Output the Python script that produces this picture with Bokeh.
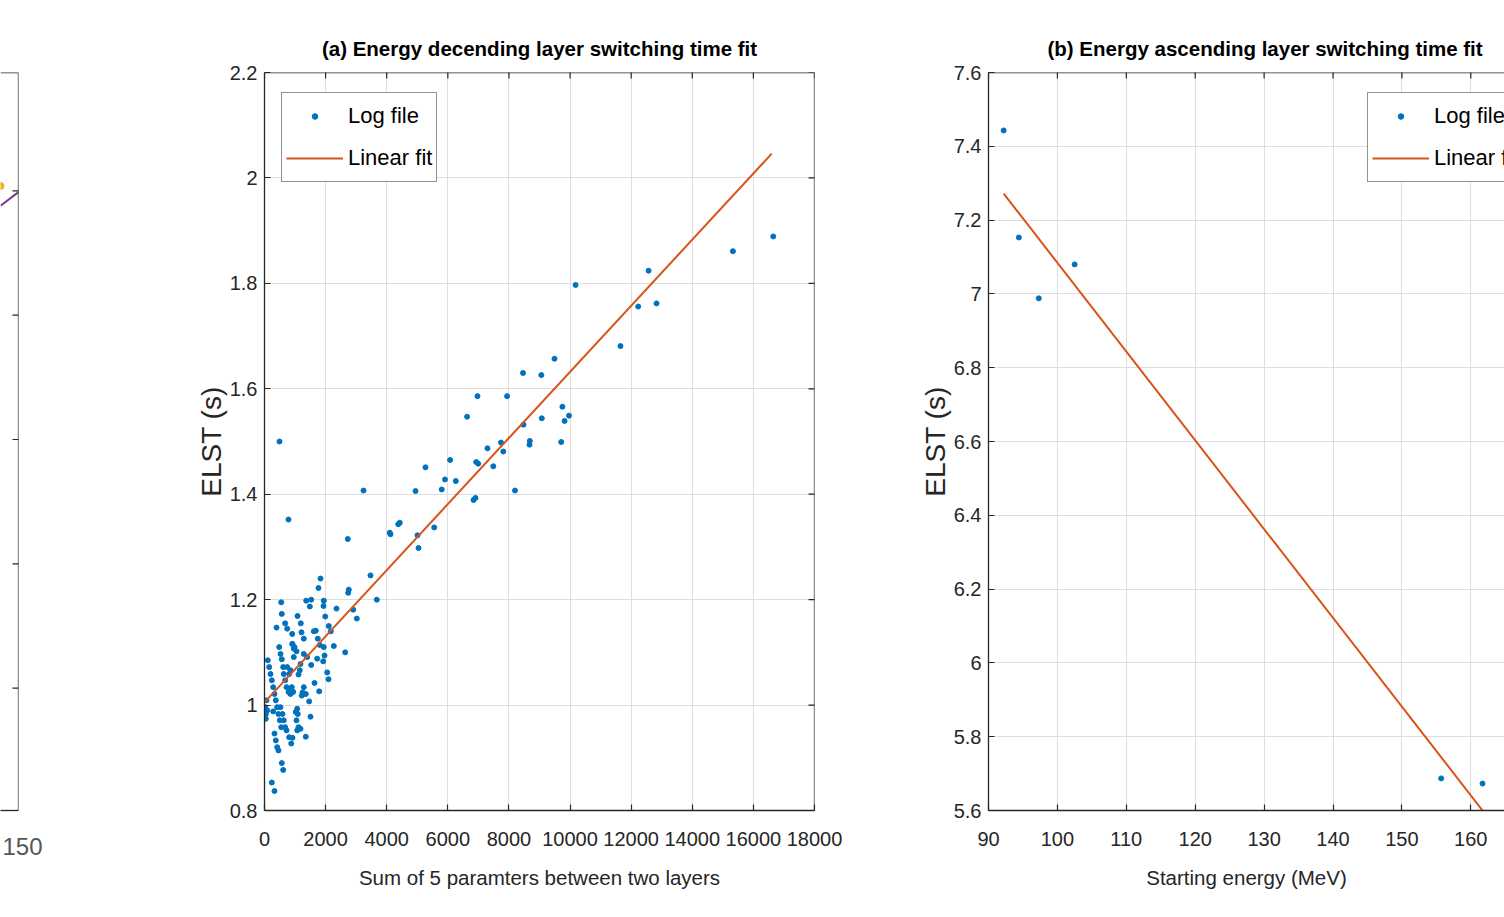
import math
from bokeh.plotting import figure
from bokeh.layouts import row
from bokeh.models import (LinearAxis, FixedTicker, Legend, LegendItem, Span,
                          Range1d, PrintfTickFormatter, Grid)
from bokeh.embed import file_html
from bokeh.resources import INLINE

# ---------------- data ----------------
# (a) Energy descending layer switching time
xa = [16650, 15330, 12570, 10180, 12230, 12830, 11650, 9490, 8460, 9060,
      6970, 7940, 6630, 9750, 9965, 9820, 9075, 8476, 7740, 7815,
      8683, 8673, 9710, 7298, 7488, 6074, 6928, 6994, 5269, 5907,
      6261, 5799, 4942, 8198, 6840, 6905, 785, 491, 2726, 3240,
      4101, 4124, 4376, 4428, 5007, 5040, 5554,
      1833, 1767, 3469, 2759, 2739, 3675, 2903, 3021, 2356, 2641,
      2268, 547, 566, 1365, 1528, 1483, 1941, 1931, 1987, 1080,
      1188, 677, 743, 393, 907, 1211, 1286, 2104, 2170, 1613,
      1679, 1744, 1810, 1941, 1964, 1921, 2052, 2095, 1636, 1790,
      1725, 1528, 1397, 1286, 907, 959, 481, 524, 566, 612,
      632, 677, 720, 785, 851, 893, 939, 108, 154, 196,
      239, 285, 327, 370, 416, 458, 501, 547, 65, 23,
      43, 88, 285, 524, 589, 632, 677, 720, 327, 370,
      416, 458, 808, 874, 916, 1070, 1047, 1090, 1113, 1178,
      1352, 1505, 1463, 1244, 1286, 1221, 1070, 1024, 851, 959,
      1047, 916, 982, 566, 612, 239, 327, 1352, 1155, 1113,
      1178, 851, 808, 743, 43]
ya = [1.889, 1.861, 1.824, 1.797, 1.756, 1.762, 1.681, 1.657, 1.630, 1.626,
      1.586, 1.586, 1.547, 1.566, 1.549, 1.539, 1.544, 1.532, 1.498, 1.481,
      1.501, 1.494, 1.499, 1.487, 1.453, 1.465, 1.461, 1.458, 1.451, 1.428,
      1.425, 1.409, 1.406, 1.407, 1.389, 1.393, 1.352, 1.500, 1.315, 1.407,
      1.327, 1.324, 1.343, 1.346, 1.322, 1.298, 1.337,
      1.240, 1.222, 1.246, 1.219, 1.213, 1.200, 1.181, 1.164, 1.183, 1.100,
      1.112, 1.195, 1.173, 1.198, 1.200, 1.187, 1.198, 1.188, 1.168, 1.169,
      1.155, 1.155, 1.145, 1.147, 1.135, 1.138, 1.126, 1.150, 1.140, 1.140,
      1.141, 1.126, 1.114, 1.110, 1.094, 1.083, 1.062, 1.049, 1.042, 1.026,
      1.088, 1.076, 1.091, 1.097, 1.116, 1.107, 1.110, 1.097, 1.087, 1.072,
      1.059, 1.047, 1.034, 1.025, 1.021, 1.034, 1.025, 1.085, 1.072, 1.059,
      1.047, 1.034, 1.021, 1.009, 0.996, 0.983, 0.971, 0.958, 1.009, 0.996,
      0.974, 0.990, 0.988, 0.996, 0.983, 0.971, 0.958, 0.952, 0.946, 0.933,
      0.920, 0.914, 0.939, 0.927, 0.938, 0.952, 0.971, 0.983, 0.958, 0.955,
      0.940, 0.978, 1.007, 1.024, 1.034, 1.018, 0.993, 0.987, 1.030, 1.091,
      1.102, 1.116, 1.110, 0.890, 0.877, 0.853, 0.837, 1.021, 1.066, 1.058,
      1.078, 1.066, 1.059, 1.072, 0.983]
fit_ax = [0, 16600]
fit_ay = [1.005, 2.046]

# (b) Energy ascending layer switching time
xb = [92.2, 94.4, 97.3, 102.5, 155.7, 161.7]
yb = [7.443, 7.153, 6.988, 7.080, 5.687, 5.673]
fit_bx = [92.2, 161.7]
fit_by = [7.272, 5.600]

# left (cut-off) panel fragment
x0_line = [148.0, 150.0]
y0_line = [4.88, 4.99]
x0_pt = [148.0]
y0_pt = [5.04]

xticks_a = [0, 2000, 4000, 6000, 8000, 10000, 12000, 14000, 16000, 18000]
yticks_a = [0.8, 1.0, 1.2, 1.4, 1.6, 1.8, 2.0, 2.2]
xticks_b = [90, 100, 110, 120, 130, 140, 150, 160, 170]
yticks_b = [5.6, 5.8, 6.0, 6.2, 6.4, 6.6, 6.8, 7.0, 7.2, 7.4, 7.6]
yticks_0 = [1, 2, 3, 4, 5]
xticks_0 = [150]

# ---------------- style ----------------
FONT = "Liberation Sans"
AX = "#262626"
GRID = "#dedede"
BLUE = "#0072BD"
ORANGE = "#D95319"
PURPLE = "#7E2F8E"
YELLOW = "#EDB120"


def make_axis(ticks, standoff):
    ax = LinearAxis(ticker=FixedTicker(ticks=ticks),
                    formatter=PrintfTickFormatter(format="%g"))
    ax.axis_line_color = AX
    ax.axis_line_width = 1.3
    ax.major_tick_line_color = AX
    ax.major_tick_line_width = 1.2
    ax.major_tick_in = 6
    ax.major_tick_out = 0
    ax.minor_tick_line_color = None
    ax.major_label_text_font = FONT
    ax.major_label_text_font_size = "20px"
    ax.major_label_text_color = AX
    ax.major_label_standoff = standoff
    return ax


def base_fig(width, title, xr, yr, bl, br):
    p = figure(width=width, height=908, x_range=Range1d(*xr), y_range=Range1d(*yr),
               min_border_left=bl, min_border_right=br, min_border_top=72,
               min_border_bottom=98, toolbar_location=None, output_backend="svg",
               x_axis_type=None, y_axis_type=None, title=title)
    p.outline_line_color = None
    p.background_fill_color = "white"
    p.border_fill_color = "white"
    p.title.text_font = FONT
    p.title.text_font_size = "20.5px"
    p.title.text_font_style = "bold"
    p.title.text_color = "black"
    p.title.standoff = 26
    return p


def add_box_ticks(p, xticks, ytop, yticks=None, xright=None):
    # MATLAB-style inward ticks on the top (and right) box edges
    if xticks:
        p.scatter(list(xticks), [ytop] * len(xticks), marker="dash", size=12,
                  angle=math.pi / 2, line_color=AX, line_width=1.2)
    p.add_layout(Span(location=ytop, dimension="width", line_color=AX, line_width=1.3))
    if yticks is not None:
        p.scatter([xright] * len(yticks), yticks, marker="dash", size=12,
                  angle=0, line_color=AX, line_width=1.2)
        p.add_layout(Span(location=xright, dimension="height", line_color=AX,
                          line_width=1.3))


def add_panel_axes(p, xticks, yticks, xlabel, ylabel):
    xb_ax = make_axis(xticks, standoff=21)
    xb_ax.axis_label = xlabel
    xb_ax.axis_label_text_font = FONT
    xb_ax.axis_label_text_font_size = "20.5px"
    xb_ax.axis_label_text_font_style = "normal"
    xb_ax.axis_label_text_color = AX
    xb_ax.axis_label_standoff = 17
    yl_ax = make_axis(yticks, standoff=7)
    yl_ax.axis_label = ylabel
    yl_ax.axis_label_text_font = FONT
    yl_ax.axis_label_text_font_size = "28px"
    yl_ax.axis_label_text_font_style = "normal"
    yl_ax.axis_label_text_color = AX
    yl_ax.axis_label_standoff = 0
    p.add_layout(xb_ax, "below")
    p.add_layout(yl_ax, "left")
    p.add_layout(Grid(dimension=0, ticker=FixedTicker(ticks=xticks),
                      grid_line_color=GRID, grid_line_width=1))
    p.add_layout(Grid(dimension=1, ticker=FixedTicker(ticks=yticks),
                      grid_line_color=GRID, grid_line_width=1))


def add_legend(p, r1, r2, loc):
    leg = Legend(items=[LegendItem(label="Log file", renderers=[r1]),
                        LegendItem(label="Linear fit", renderers=[r2])],
                 location=loc)
    leg.label_text_font = FONT
    leg.label_text_font_size = "22px"
    leg.label_text_color = "black"
    leg.padding = 4
    leg.spacing = 4
    leg.margin = 0
    leg.glyph_height = 14
    leg.label_height = 38
    leg.glyph_width = 57
    leg.label_standoff = 5
    leg.border_line_color = AX
    leg.border_line_width = 1.2
    leg.background_fill_color = "white"
    leg.background_fill_alpha = 1
    p.add_layout(leg)


# ---------------- left fragment (frame is aligned with the row) ----------------
p0 = figure(width=68, height=908, x_range=Range1d(148, 150),
            y_range=Range1d(0.016, 5.952),
            min_border_left=0, min_border_right=50, min_border_top=72,
            min_border_bottom=98, toolbar_location=None, output_backend="svg",
            x_axis_type=None, y_axis_type=None)
p0.outline_line_color = None
b0 = make_axis(xticks_0, standoff=27)
b0.major_tick_in = 0
b0.major_label_text_font_size = "24px"
b0.major_label_text_color = "#555555"
p0.add_layout(b0, "below")
p0.line(x0_line, y0_line, line_width=2, color=PURPLE)
p0.scatter(x0_pt, y0_pt, size=7, color=YELLOW)
add_box_ticks(p0, [], 5.952, yticks_0, 150)

# ---------------- panel (a) ----------------
pa = base_fig(806, "(a) Energy decending layer switching time fit",
              (0, 18000), (0.8, 2.2), 196, 60)
pa.title.align = "center"
add_panel_axes(pa, xticks_a, yticks_a, "Sum of 5 paramters between two layers", "ELST (s)")
add_box_ticks(pa, xticks_a, 2.2, yticks_a, 18000)
ra1 = pa.scatter(xa, ya, size=5, color=BLUE, line_color=BLUE)
ra2 = pa.line(fit_ax, fit_ay, line_width=2, color=ORANGE)
add_legend(pa, ra1, ra2, (17, 628))

# ---------------- panel (b) ----------------
pb = base_fig(630, "(b) Energy ascending layer switching time fit",
              (90, 164.89), (5.6, 7.6), 114, 0)
pb.title.align = "left"
pb.title.offset = 59
add_panel_axes(pb, xticks_b, yticks_b, "Starting energy (MeV)", "ELST (s)")
add_box_ticks(pb, xticks_b, 7.6)
rb1 = pb.scatter(xb, yb, size=5, color=BLUE, line_color=BLUE)
rb2 = pb.line(fit_bx, fit_by, line_width=2, color=ORANGE)
add_legend(pb, rb1, rb2, (379, 628))

layout = row(p0, pa, pb)
open("out.html", "w").write(file_html(layout, INLINE))
